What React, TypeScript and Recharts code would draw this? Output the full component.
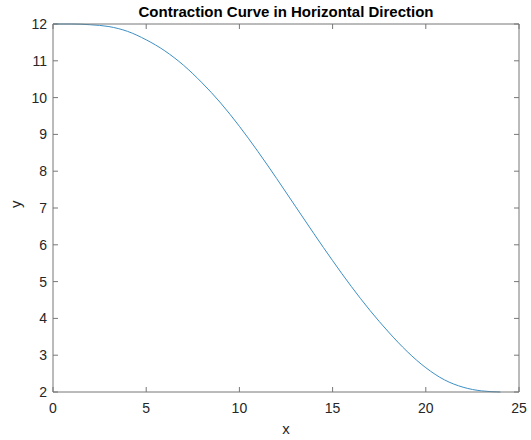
import { Label, Line, LineChart, XAxis, YAxis } from "recharts";

const xValues = [0, 1, 2, 3, 4, 5, 6, 7, 8, 9, 10, 11, 12, 13, 14, 15, 16, 17, 18, 19, 20, 21, 22, 23, 24];
const yValues = [
  12.0, 12.0, 11.98, 11.93, 11.8, 11.57, 11.27, 10.88, 10.4, 9.85, 9.22, 8.53, 7.8, 7.05, 6.3, 5.57, 4.87,
  4.22, 3.63, 3.1, 2.66, 2.33, 2.13, 2.03, 2.0,
];
const xTicks = [0, 5, 10, 15, 20, 25];
const yTicks = [2, 3, 4, 5, 6, 7, 8, 9, 10, 11, 12];

const data = xValues.map((x, i) => ({ x, y: yValues[i] }));

const AXIS = "#777777";
const TEXT = "#262626";
const FONT = "'Liberation Sans', Arial, Helvetica, sans-serif";
const TICK_LEN = 5;

// matlab style: tick marks point into the plot box
function BottomTick({ x, y, payload }: any) {
  return (
    <g>
      <line x1={x} y1={y} x2={x} y2={y - TICK_LEN} stroke={AXIS} />
      <text x={x} y={y + 21} textAnchor="middle" fill={TEXT} fontSize={14} fontFamily={FONT}>
        {payload.value}
      </text>
    </g>
  );
}

function LeftTick({ x, y, payload }: any) {
  return (
    <g>
      <line x1={x} y1={y} x2={x + TICK_LEN} y2={y} stroke={AXIS} />
      <text x={x - 6} y={y + 5} textAnchor="end" fill={TEXT} fontSize={14} fontFamily={FONT}>
        {payload.value}
      </text>
    </g>
  );
}

function TopTick({ x, y }: any) {
  return <line x1={x} y1={y} x2={x} y2={y + TICK_LEN} stroke={AXIS} />;
}

function RightTick({ x, y }: any) {
  return <line x1={x} y1={y} x2={x - TICK_LEN} y2={y} stroke={AXIS} />;
}

export default function App() {
  return (
    <div style={{ position: "absolute", left: 0, top: 0, width: 531, height: 440, background: "#fff" }}>
      <div
        style={{
          position: "absolute",
          left: 53,
          top: 3,
          width: 466,
          textAlign: "center",
          fontFamily: FONT,
          fontWeight: "bold",
          fontSize: 15,
          lineHeight: "17px",
          color: "#000",
        }}
      >
        Contraction Curve in Horizontal Direction
      </div>
      <LineChart width={531} height={440} data={data} margin={{ top: 23, right: 11, bottom: 0, left: 0 }}>
        <XAxis
          dataKey="x"
          type="number"
          domain={[0, 25]}
          ticks={xTicks}
          height={48}
          tickSize={0}
          tickMargin={0}
          tick={<BottomTick />}
          axisLine={{ stroke: AXIS }}
          tickLine={false}
        >
          <Label value="x" position="insideBottom" offset={6} fill={TEXT} fontSize={15} fontFamily={FONT} />
        </XAxis>
        <XAxis
          xAxisId="top"
          orientation="top"
          dataKey="x"
          type="number"
          domain={[0, 25]}
          ticks={xTicks}
          height={1}
          tickSize={0}
          tickMargin={0}
          tick={<TopTick />}
          axisLine={{ stroke: AXIS }}
          tickLine={false}
        />
        <YAxis
          type="number"
          domain={[2, 12]}
          ticks={yTicks}
          width={53}
          tickSize={0}
          tickMargin={0}
          tick={<LeftTick />}
          axisLine={{ stroke: AXIS }}
          tickLine={false}
        >
          <Label value="y" position="insideLeft" angle={-90} offset={16} fill={TEXT} fontSize={15} fontFamily={FONT} />
        </YAxis>
        <YAxis
          yAxisId="right"
          orientation="right"
          type="number"
          domain={[2, 12]}
          ticks={yTicks}
          width={1}
          tickSize={0}
          tickMargin={0}
          tick={<RightTick />}
          axisLine={{ stroke: AXIS }}
          tickLine={false}
        />
        {/* invisible series so the box axes on top and right get drawn */}
        <Line
          xAxisId="top"
          yAxisId="right"
          dataKey="y"
          stroke="none"
          dot={false}
          activeDot={false}
          isAnimationActive={false}
        />
        <Line
          dataKey="y"
          type="monotone"
          stroke="#3d8fc4"
          strokeWidth={1}
          dot={false}
          isAnimationActive={false}
        />
      </LineChart>
    </div>
  );
}
